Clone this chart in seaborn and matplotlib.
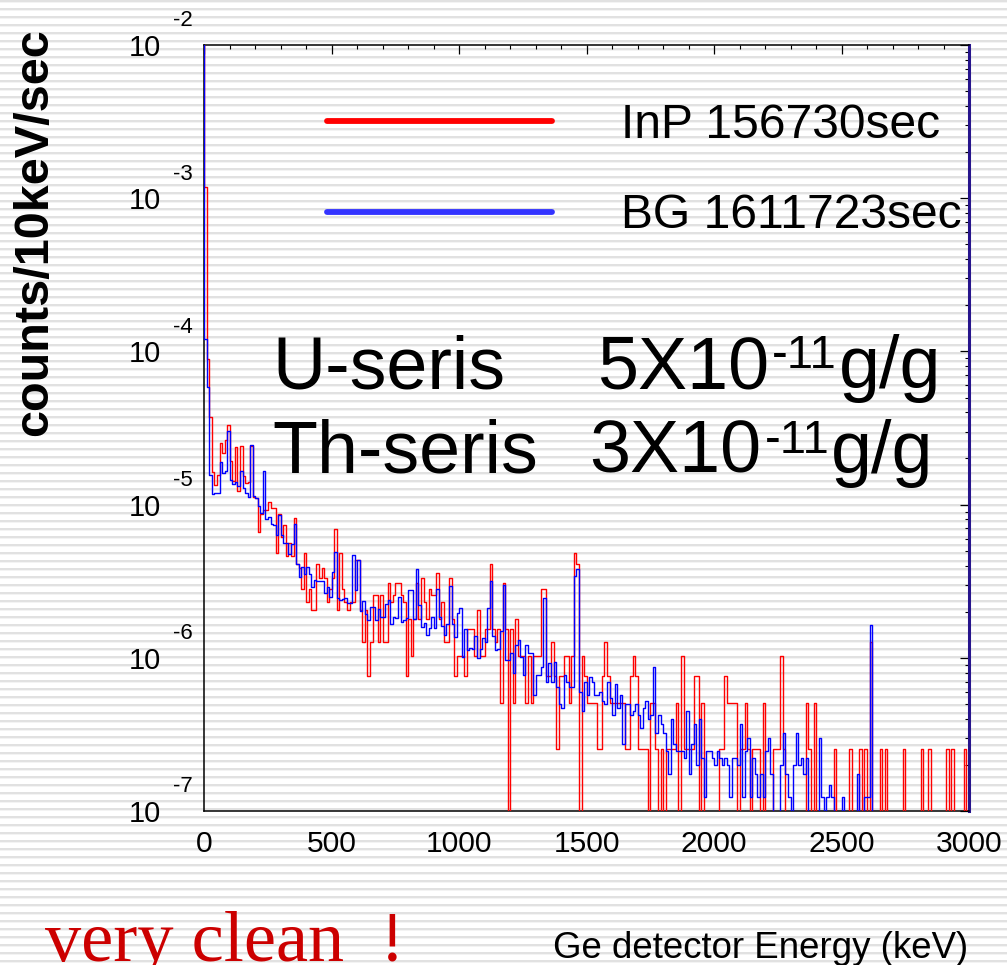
import numpy as np
import matplotlib
matplotlib.use("Agg")
import matplotlib.pyplot as plt
import seaborn as sns
from matplotlib.lines import Line2D
from matplotlib.ticker import (FixedLocator, FixedFormatter, LogLocator,
                               MultipleLocator, NullFormatter)

# ---------------------------------------------------------------------------
# Ge detector spectra, 10 keV bins from -10 keV to 3000 keV.
# The first bin (-10..0 keV) holds the below-threshold noise counts.
# ---------------------------------------------------------------------------
BIN_WIDTH = 10
E_MIN, E_MAX = -10, 3000

LIVE_INP = 156730.0    # s, InP sample run
LIVE_BG = 1611723.0    # s, background run
NORM = 25.0            # per-bin normalisation into counts/10keV/sec

inp_counts = [
    60000,
    4670, 350, 147, 64, 53, 61, 99, 85, 103, 130,
    76, 56, 93, 48, 95, 60, 54, 55, 95, 44,
    43, 26, 34, 36, 36, 41, 37, 37, 19, 34,
    24, 29, 18, 22, 18, 32, 16, 15, 11, 19,
    9, 11, 8, 8, 16, 13, 15, 13, 9, 11,
    13, 27, 8, 19, 11, 9, 8, 9, 9, 17,
    17, 8, 5, 8, 3, 5, 10, 10, 5, 10,
    5, 5, 12, 9, 10, 12, 12, 10, 9, 3,
    7, 4, 7, 12, 7, 13, 9, 7, 11, 10,
    10, 14, 7, 9, 5, 5, 13, 7, 3, 4,
    4, 4, 3, 6, 6, 6, 4, 8, 4, 4,
    6, 6, 16, 6, 5, 6, 2, 12, 6, 0,
    6, 2, 7, 4, 4, 4, 2, 4, 2, 4,
    4, 4, 11, 11, 3, 3, 5, 3, 1, 3,
    3, 4, 4, 2, 4, 19, 16, 0, 4, 3,
    2, 2, 2, 2, 1, 1, 3, 5, 3, 2,
    2, 2, 2, 2, 2, 1, 1, 3, 4, 3,
    1, 1, 1, 1, 0, 2, 2, 1, 0, 1,
    0, 1, 1, 1, 1, 2, 0, 4, 1, 1,
    1, 1, 3, 3, 0, 2, 0, 0, 0, 0,
    0, 0, 1, 1, 3, 2, 2, 2, 2, 0,
    1, 1, 2, 1, 0, 1, 1, 1, 0, 2,
    0, 0, 0, 1, 1, 1, 4, 1, 0, 0,
    0, 0, 0, 0, 0, 0, 2, 1, 0, 2,
    0, 0, 0, 0, 0, 0, 0, 1, 0, 0,
    0, 0, 0, 1, 0, 0, 0, 1, 0, 1,
    0, 5, 0, 0, 0, 1, 0, 1, 0, 0,
    0, 0, 0, 0, 1, 0, 0, 0, 0, 0,
    0, 1, 0, 0, 1, 0, 0, 0, 0, 0,
    0, 1, 0, 1, 0, 0, 0, 0, 1, 0,
]

bg_counts = [
    900000,
    4860, 2350, 624, 469, 480, 480, 759, 646, 663, 1227,
    579, 551, 565, 529, 663, 519, 480, 451, 990, 458,
    445, 392, 353, 666, 324, 334, 302, 295, 254, 343,
    254, 226, 226, 191, 222, 299, 164, 136, 158, 143,
    158, 143, 117, 130, 127, 127, 128, 106, 116, 100,
    146, 197, 99, 96, 98, 99, 92, 92, 188, 111,
    174, 81, 95, 78, 71, 86, 87, 71, 84, 74,
    74, 91, 96, 67, 74, 73, 100, 69, 71, 73,
    112, 111, 72, 153, 89, 64, 68, 57, 63, 74,
    63, 114, 74, 65, 57, 67, 118, 67, 55, 79,
    85, 41, 62, 45, 47, 46, 56, 40, 46, 54,
    51, 85, 128, 56, 45, 46, 60, 120, 39, 39,
    43, 32, 49, 53, 41, 31, 49, 43, 43, 23,
    31, 31, 35, 99, 28, 37, 28, 38, 26, 20,
    19, 31, 28, 26, 26, 138, 153, 24, 18, 28,
    23, 30, 28, 23, 23, 24, 21, 20, 28, 22,
    17, 27, 19, 23, 11, 20, 20, 17, 18, 20,
    17, 14, 19, 21, 16, 17, 35, 13, 17, 15,
    13, 10, 7, 16, 11, 10, 10, 10, 9, 18,
    7, 11, 15, 8, 16, 9, 5, 10, 10, 9,
    8, 10, 9, 8, 9, 8, 5, 9, 9, 8,
    15, 5, 10, 12, 5, 9, 7, 5, 7, 5,
    10, 12, 7, 2, 2, 2, 8, 13, 7, 5,
    2, 8, 13, 8, 9, 7, 9, 2, 2, 2,
    2, 12, 5, 2, 5, 6, 5, 2, 2, 2,
    5, 2, 2, 2, 2, 2, 7, 2, 2, 5,
    5, 66, 2, 2, 2, 2, 2, 2, 2, 2,
    2, 2, 2, 2, 2, 2, 2, 2, 2, 2,
    2, 2, 2, 2, 2, 2, 2, 2, 2, 2,
    2, 2, 2, 2, 2, 2, 2, 2, 2, 2,
]

DECADES = [1e-7, 1e-6, 1e-5, 1e-4, 1e-3, 1e-2]
DECADE_EXP = ["-7", "-6", "-5", "-4", "-3", "-2"]
X_TICKS = [0, 500, 1000, 1500, 2000, 2500, 3000]

LEGEND_LABELS = ["InP 156730sec", "BG 1611723sec"]
RED = "#ff0000"
BLUE = "#0000ff"

# ---------------------------------------------------------------------------
edges = np.arange(E_MIN, E_MAX + BIN_WIDTH, BIN_WIDTH)
inp_rate = np.asarray(inp_counts, float) / (LIVE_INP * NORM)
bg_rate = np.asarray(bg_counts, float) / (LIVE_BG * NORM)
# step outline: each bin value starts at its left edge, last value closes at E_MAX
inp_step = np.append(inp_rate, inp_rate[-1])
bg_step = np.append(bg_rate, bg_rate[-1])

sns.set_theme(style="white")
plt.rcParams["font.family"] = ["Liberation Sans", "DejaVu Sans"]
plt.rcParams.update({"text.color": "black", "axes.labelcolor": "black",
                     "xtick.color": "black", "ytick.color": "black"})

W, H = 1007, 965
fig = plt.figure(figsize=(W / 100, H / 100), dpi=100)

# striped slide background
row = np.arange(H)
phase = row % 8
shade = np.ones(H)
shade[phase == 0] = 0.88
shade[phase == 1] = 0.88
shade[phase == 2] = 0.95
bg = fig.add_axes([0, 0, 1, 1], zorder=0)
bg.imshow(shade[:, None], aspect="auto", extent=(0, 1, 0, 1), cmap="gray",
          vmin=0, vmax=1, interpolation="nearest")
bg.set_axis_off()

ax = fig.add_axes([204.3 / W, 154 / H, 764.7 / W, 766 / H], zorder=1)
ax.set_facecolor("none")
ax.set_yscale("log")

sns.lineplot(x=edges, y=inp_step, drawstyle="steps-post", estimator=None,
             color=RED, linewidth=1.0, ax=ax, zorder=3)
sns.lineplot(x=edges, y=bg_step, drawstyle="steps-post", estimator=None,
             color=BLUE, linewidth=1.0, ax=ax, zorder=3.2)

ax.set_xlim(0, 3000)
ax.set_ylim(DECADES[0], DECADES[-1])

# axes frame
for side in ("left", "top", "bottom"):
    ax.spines[side].set_color("black")
    ax.spines[side].set_linewidth(1.1)
ax.spines["right"].set_color("#26148c")
ax.spines["right"].set_linewidth(2.2)

ax.xaxis.set_major_locator(FixedLocator(X_TICKS))
ax.xaxis.set_minor_locator(MultipleLocator(100))
ax.yaxis.set_major_locator(FixedLocator(DECADES))
ax.yaxis.set_major_formatter(FixedFormatter(["10"] * len(DECADES)))
ax.yaxis.set_minor_locator(LogLocator(base=10, subs=np.arange(2, 10)))
ax.yaxis.set_minor_formatter(NullFormatter())

ax.tick_params(which="both", direction="in", top=True, right=True,
               color="black", labelcolor="black")
ax.tick_params(which="major", length=6.5, width=0.9)
ax.tick_params(which="minor", length=3.2, width=0.8)
ax.tick_params(axis="x", which="major", labelsize=21.6, pad=14)
ax.tick_params(axis="y", which="major", labelsize=21, pad=31)

# decade exponents raised above each "10"
for val, ex in zip(DECADES, DECADE_EXP):
    ax.annotate(ex, xy=(0, val), xycoords=ax.get_yaxis_transform(),
                xytext=(-31, 24), textcoords="offset pixels",
                ha="left", va="center", fontsize=16, color="black",
                annotation_clip=False)

ax.set_ylabel("counts/10keV/sec", fontsize=35, fontweight="bold",
              color="black")
ax.yaxis.set_label_coords(-0.1926, 0.7555)
ax.set_xlabel("Ge detector Energy (keV)", fontsize=26.4, loc="right",
              color="black")
ax.xaxis.set_label_coords(0.9987, -0.1567)

handles = [Line2D([], [], color=RED, linewidth=4.2),
           Line2D([], [], color="#3333ff", linewidth=4.2)]
ax.legend(handles, LEGEND_LABELS, loc="upper left",
          bbox_to_anchor=(0.1605, 0.924), frameon=False, fontsize=34.6,
          handlelength=4.69, handletextpad=1.42, labelspacing=0.94,
          borderpad=0, borderaxespad=0, labelcolor="black")

# contamination limits
big = 53
ax.text(0.0885, 0.5522, "U-seris", fontsize=big, transform=ax.transAxes,
        va="baseline", ha="left", color="black")
ax.text(0.0885, 0.4413, "Th-seris", fontsize=big, transform=ax.transAxes,
        va="baseline", ha="left", color="black")
for x0, y0, lead in ((0.514, 0.5522, "5X10"), (0.504, 0.4413, "3X10")):
    t1 = ax.text(x0, y0, lead, fontsize=big, transform=ax.transAxes,
                 va="baseline", ha="left", color="black")
    t2 = ax.annotate("-11", xy=(1, 1), xycoords=t1, xytext=(2, 0),
                     textcoords="offset points", fontsize=34,
                     va="top", ha="left", color="black")
    ax.annotate("g/g", xy=(1, 0), xycoords=(t2, t1), xytext=(1, 0),
                textcoords="offset points", fontsize=big,
                va="bottom", ha="left", color="black")

fig.text(45 / W, 4 / H, "very clean  !", fontsize=52, color="#cc0000",
         family="Liberation Serif", ha="left", va="baseline")

fig.savefig("out.png", dpi=100)
